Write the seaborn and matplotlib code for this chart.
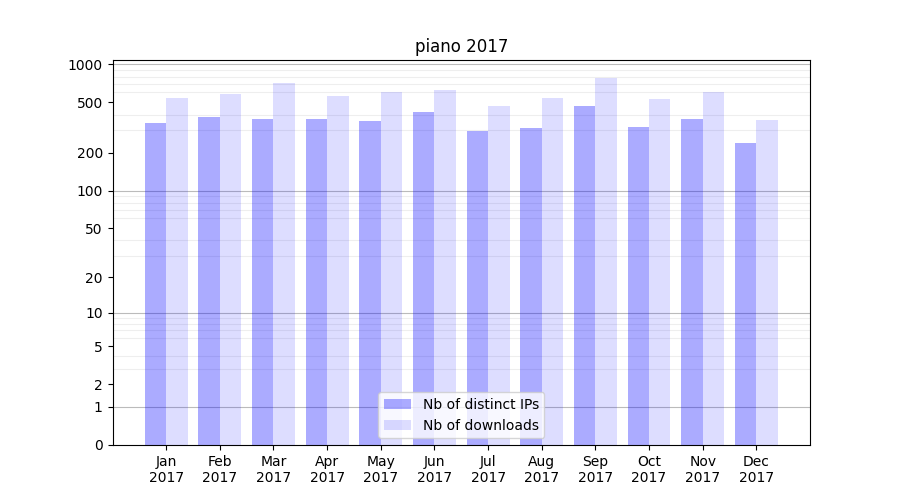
import numpy as np
import pandas as pd
import matplotlib
matplotlib.use("Agg")
import matplotlib.pyplot as plt
import seaborn as sns

months = ['Jan', 'Feb', 'Mar', 'Apr', 'May', 'Jun', 'Jul', 'Aug', 'Sep', 'Oct', 'Nov', 'Dec']
year = '2017'
distinct_ips = [345, 384, 370, 370, 357, 420, 297, 314, 468, 320, 370, 239]
downloads = [542, 583, 712, 562, 605, 626, 468, 542, 779, 532, 605, 363]
y_ticks = [0, 1, 2, 5, 10, 20, 50, 100, 200, 500, 1000]

labels = [m + '\n' + year for m in months]
df = pd.DataFrame({
    'month': labels * 2,
    'value': distinct_ips + downloads,
    'series': ['Nb of distinct IPs'] * 12 + ['Nb of downloads'] * 12,
})

fig, ax = plt.subplots(figsize=(9, 5), dpi=100)

# log(1+x) scale so zero can be shown
ax.set_yscale('function', functions=(lambda v: np.log10(1 + np.clip(v, 0, None)),
                                     lambda v: 10 ** v - 1))

sns.barplot(data=df, x='month', y='value', hue='series', ax=ax,
            palette=['blue', 'blue'], linewidth=0, width=0.8)

alphas = [0.33, 0.135]
for cont, a in zip(ax.containers, alphas):
    for p in cont:
        p.set_facecolor((0, 0, 1, a))
        p.set_edgecolor('none')

ax.set_ylim(0, 1080)
ax.set_xlim(-1, 12)
ax.set_yticks(y_ticks)
ax.set_yticklabels([str(t) for t in y_ticks])

minor = []
for dec in [1, 10, 100]:
    minor += [dec * k for k in range(2, 10)]
ax.set_yticks(minor, minor=True)
ax.tick_params(axis='y', which='minor', length=0)
ax.grid(True, axis='y', which='minor', color='#eeeeee', linewidth=0.8)
for dec in [1, 10, 100, 1000]:
    ax.axhline(dec, color='#bbbbbb', linewidth=0.8, zorder=0.5)
ax.set_axisbelow(True)

ax.set_xlabel('')
ax.set_ylabel('')
ax.set_title('piano 2017')
handles, lab = ax.get_legend_handles_labels()
ax.legend(loc='lower center')
for h, a in zip(ax.get_legend().get_patches(), alphas):
    h.set_facecolor((0, 0, 1, a))
    h.set_edgecolor('none')

plt.savefig('out.png')
